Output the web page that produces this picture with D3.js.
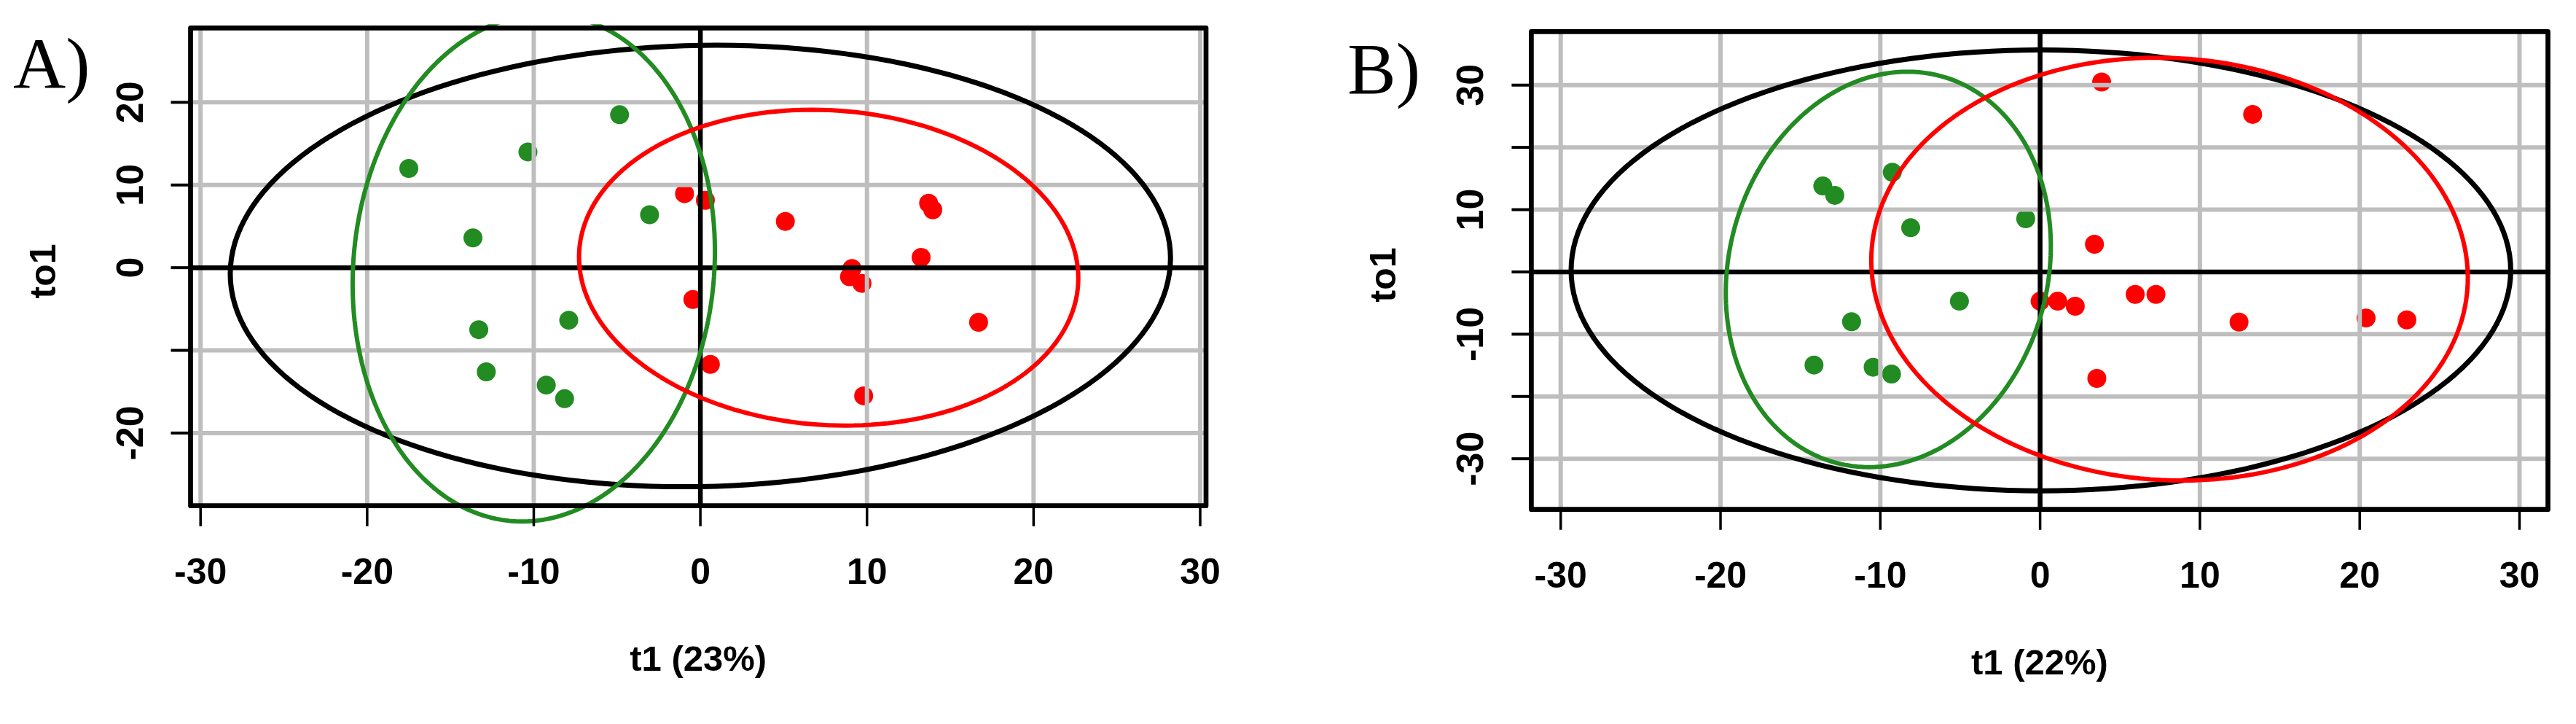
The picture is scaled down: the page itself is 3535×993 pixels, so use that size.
<!DOCTYPE html>
<html>
<head>
<meta charset="utf-8">
<script src="https://cdn.jsdelivr.net/npm/d3@7"></script>
<style>
  body { margin: 0; background: #fff; }
  text { font-family: "Liberation Sans", Arial, sans-serif; font-weight: bold; fill: #000; }
  .tag { font-family: "Liberation Serif", "Times New Roman", serif; font-weight: normal; }
</style>
</head>
<body>
<script>
// ---- data ----
const xTicks = [-30, -20, -10, 0, 10, 20, 30];

// panel A
const yTicksA = [-20, -10, 0, 10, 20];
const yLabelsA = [20, 10, 0, -20];
const greenAx = [-17.5, -10.35, -4.85, -13.65, -3.05, -13.3, -7.9, -12.85, -9.25, -8.15];
const greenAy = [12.0, 14.0, 18.5, 3.6, 6.4, -7.5, -6.35, -12.6, -14.2, -15.85];
const redAx = [-0.95, 0.3, 5.1, 13.7, 13.95, 13.25, 9.1, 8.95, 9.7, -0.45, 16.7, 0.6, 9.8];
const redAy = [8.95, 8.15, 5.6, 7.8, 7.0, 1.25, -0.1, -1.1, -1.9, -3.85, -6.6, -11.7, -15.5];
// ellipses: [cx, cy, rx, ry, shear]
const ellTotalA = [0, 0.2, 28.2, 26.7, 1.0];
const ellGreenA = [-10.0, 0.0, 10.85, 30.7, 0.7];
const ellRedA = [7.7, 0.0, 14.95, 19.1, -1.0];

// panel B
const yTicksB = [-30, -20, -10, 0, 10, 20, 30];
const yLabelsB = [30, 10, -10, -30];
const greenBx = [-13.6, -12.85, -9.25, -8.1, -5.05, -11.8, -14.15, -10.45, -9.3, -0.9];
const greenBy = [13.8, 12.3, 16.0, 7.1, -4.7, -8.0, -14.95, -15.3, -16.4, 8.55];
const redBx = [3.85, 13.3, 3.4, 0.0, 1.1, 2.2, 5.95, 7.25, 12.45, 20.4, 22.95, 3.55];
const redBy = [30.5, 25.3, 4.45, -4.7, -4.7, -5.5, -3.6, -3.6, -8.05, -7.4, -7.7, -17.1];
const ellTotalB = [0.05, 0.25, 29.4, 35.4, 0.0];
const ellGreenB = [-9.5, 0.4, 10.1, 31.75, 1.2];
const ellRedB = [8.1, 0.45, 18.65, 33.95, -0.77];

const GREEN = "#228B22", RED = "#FF0000", GRID = "#BEBEBE";

const svg = d3.select("body").append("svg")
  .attr("width", 3535)
  .attr("height", 993);

svg.append("rect").attr("width", 3535).attr("height", 993).attr("fill", "#fff");

const panels = [
  {
    id: "A", tag: "A)", title: "t1 (23%)",
    box: { left: 261.5, right: 1655, top: 38.3, bottom: 693.7 },
    xDom: [-30.6, 30.35], yDom: [-28.8, 29.0],
    yTicks: yTicksA, yLabels: yLabelsA,
    green: greenAx.map((v, i) => [v, greenAy[i]]),
    red: redAx.map((v, i) => [v, redAy[i]]),
    ells: [[ellTotalA, "#000", 7], [ellGreenA, GREEN, 6], [ellRedA, RED, 6]],
    tagPos: [18, 121]
  },
  {
    id: "B", tag: "B)", title: "t1 (22%)",
    box: { left: 2101.4, right: 3496.5, top: 43.3, bottom: 698.7 },
    xDom: [-31.84, 31.78], yDom: [-38.14, 38.6],
    yTicks: yTicksB, yLabels: yLabelsB,
    green: greenBx.map((v, i) => [v, greenBy[i]]),
    red: redBx.map((v, i) => [v, redBy[i]]),
    ells: [[ellTotalB, "#000", 7], [ellGreenB, GREEN, 6], [ellRedB, RED, 6]],
    tagPos: [1849, 128]
  }
];

function ellipsePoints(e) {
  const [cx, cy, rx, ry, sh] = e;
  return d3.range(0, 360, 2).map(deg => {
    const t = deg * Math.PI / 180;
    return [cx + rx * Math.cos(t) + sh * Math.sin(t), cy + ry * Math.sin(t)];
  });
}

panels.forEach(p => {
  const b = p.box;
  const x = d3.scaleLinear().domain(p.xDom).range([b.left, b.right]);
  const y = d3.scaleLinear().domain(p.yDom).range([b.bottom, b.top]);
  const g = svg.append("g");

  g.append("clipPath").attr("id", "clip" + p.id)
    .append("rect")
    .attr("x", b.left - 40).attr("y", b.top - 5)
    .attr("width", b.right - b.left + 80).attr("height", 993 - b.top + 5);

  // points (drawn first, the grid goes over them)
  g.append("g").selectAll("circle")
    .data(p.green)
    .join("circle")
    .attr("cx", d => x(d[0]))
    .attr("cy", d => y(d[1]))
    .attr("r", 13)
    .attr("fill", GREEN);
  g.append("g").selectAll("circle")
    .data(p.red)
    .join("circle")
    .attr("cx", d => x(d[0]))
    .attr("cy", d => y(d[1]))
    .attr("r", 13)
    .attr("fill", RED);

  // grid
  g.append("g").selectAll("line")
    .data(xTicks)
    .join("line")
    .attr("x1", d => x(d)).attr("x2", d => x(d))
    .attr("y1", b.top).attr("y2", b.bottom)
    .attr("stroke", GRID).attr("stroke-width", 6).attr("stroke-linecap", "round");
  g.append("g").selectAll("line")
    .data(p.yTicks)
    .join("line")
    .attr("y1", d => y(d)).attr("y2", d => y(d))
    .attr("x1", b.left).attr("x2", b.right)
    .attr("stroke", GRID).attr("stroke-width", 6).attr("stroke-linecap", "round");

  // zero lines
  g.append("line")
    .attr("x1", b.left).attr("x2", b.right)
    .attr("y1", y(0)).attr("y2", y(0))
    .attr("stroke", "#000").attr("stroke-width", 6.5);
  g.append("line")
    .attr("x1", x(0)).attr("x2", x(0))
    .attr("y1", b.top).attr("y2", b.bottom)
    .attr("stroke", "#000").attr("stroke-width", 6.5);

  // ellipses
  const line = d3.line()
    .x(d => x(d[0]))
    .y(d => y(d[1]))
    .curve(d3.curveLinearClosed);
  g.append("g").attr("clip-path", `url(#clip${p.id})`)
    .selectAll("path")
    .data(p.ells)
    .join("path")
    .attr("d", d => line(ellipsePoints(d[0])))
    .attr("fill", "none")
    .attr("stroke", d => d[1])
    .attr("stroke-width", d => d[2])
    .attr("stroke-linejoin", "round");

  // frame
  g.append("rect")
    .attr("x", b.left).attr("y", b.top)
    .attr("width", b.right - b.left).attr("height", b.bottom - b.top)
    .attr("fill", "none").attr("stroke", "#000").attr("stroke-width", 6.7)
    .attr("stroke-linejoin", "round");

  // x axis ticks and labels
  g.append("g").selectAll("line")
    .data(xTicks)
    .join("line")
    .attr("x1", d => x(d)).attr("x2", d => x(d))
    .attr("y1", b.bottom).attr("y2", b.bottom + 28)
    .attr("stroke", "#000").attr("stroke-width", 3.5);
  g.append("g").selectAll("text")
    .data(xTicks)
    .join("text")
    .attr("x", d => x(d))
    .attr("y", b.bottom + 107)
    .attr("text-anchor", "middle")
    .attr("font-size", 50)
    .text(d => d);

  // y axis ticks and labels
  g.append("g").selectAll("line")
    .data(p.yTicks)
    .join("line")
    .attr("y1", d => y(d)).attr("y2", d => y(d))
    .attr("x1", b.left - 27).attr("x2", b.left)
    .attr("stroke", "#000").attr("stroke-width", 4);
  g.append("g").selectAll("text")
    .data(p.yLabels)
    .join("text")
    .attr("transform", d => `translate(${b.left - 66},${y(d)}) rotate(-90)`)
    .attr("text-anchor", "middle")
    .attr("font-size", 52)
    .text(d => d);

  // titles
  g.append("text")
    .attr("x", (b.left + b.right) / 2)
    .attr("y", b.bottom + 226)
    .attr("text-anchor", "middle")
    .attr("font-size", 49)
    .text(p.title);
  g.append("text")
    .attr("transform", `translate(${b.left - 186},${(b.top + b.bottom) / 2 + 6}) rotate(-90)`)
    .attr("text-anchor", "middle")
    .attr("font-size", 50)
    .text("to1");

  g.append("text")
    .attr("class", "tag")
    .attr("x", p.tagPos[0])
    .attr("y", p.tagPos[1])
    .attr("font-size", 100)
    .text(p.tag);
});
</script>
</body>
</html>
